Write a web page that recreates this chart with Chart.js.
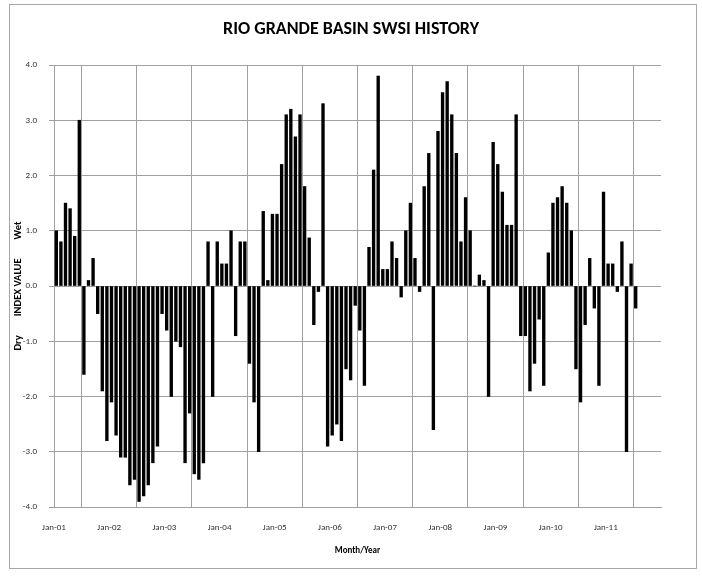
<!DOCTYPE html>
<html><head><meta charset="utf-8">
<script src="https://cdn.jsdelivr.net/npm/chart.js@4/dist/chart.umd.min.js"></script>
<style>html,body{margin:0;padding:0;background:#fff;}</style>
</head><body>
<canvas id="c" width="702" height="576" style="display:block;width:702px;height:576px"></canvas>
<script>
const yearLabels = ['Jan-01','Jan-02','Jan-03','Jan-04','Jan-05','Jan-06','Jan-07','Jan-08','Jan-09','Jan-10','Jan-11'];
const swsi2001 = [1.0, 0.8, 1.5, 1.4, 0.9, 3.0, -1.6, 0.1, 0.5, -0.5, -1.9, -2.8];
const swsi2002 = [-2.1, -2.7, -3.1, -3.1, -3.6, -3.5, -3.9, -3.8, -3.6, -3.2, -2.9, -0.5];
const swsi2003 = [-0.8, -2.0, -1.0, -1.1, -3.2, -2.3, -3.4, -3.5, -3.2, 0.8, -2.0, 0.8];
const swsi2004 = [0.4, 0.4, 1.0, -0.9, 0.8, 0.8, -1.4, -2.1, -3.0, 1.35, 0.1, 1.3];
const swsi2005 = [1.3, 2.2, 3.1, 3.2, 2.7, 3.1, 1.8, 0.87, -0.7, -0.1, 3.3, -2.9];
const swsi2006 = [-2.7, -2.5, -2.8, -1.5, -1.7, -0.35, -0.8, -1.8, 0.7, 2.1, 3.8, 0.3];
const swsi2007 = [0.3, 0.8, 0.5, -0.2, 1.0, 1.5, 0.5, -0.1, 1.8, 2.4, -2.6, 2.8];
const swsi2008 = [3.5, 3.7, 3.1, 2.4, 0.8, 1.6, 1.0, 0, 0.2, 0.1, -2.0, 2.6];
const swsi2009 = [2.2, 1.7, 1.1, 1.1, 3.1, -0.9, -0.9, -1.9, -1.4, -0.6, -1.8, 0.6];
const swsi2010 = [1.5, 1.6, 1.8, 1.5, 1.0, -1.5, -2.1, -0.7, 0.5, -0.4, -1.8, 1.7];
const swsi2011 = [0.4, 0.4, -0.1, 0.8, -3.0, 0.4, -0.4];
const monthlySWSI = [].concat(swsi2001, swsi2002, swsi2003, swsi2004, swsi2005, swsi2006,
  swsi2007, swsi2008, swsi2009, swsi2010, swsi2011);

const FONT = 'Carlito, Calibri, Lato, "Open Sans", sans-serif';
const GRID = '#a0a0a0';

const frame = {
  id: 'frame',
  beforeDraw(chart) {
    const ctx = chart.ctx;
    ctx.save();
    ctx.fillStyle = '#ffffff';
    ctx.fillRect(0, 0, chart.width, chart.height);
    ctx.strokeStyle = '#a6a6a6';
    ctx.lineWidth = 1;
    ctx.strokeRect(9.5, 4.5, 687, 564);
    ctx.restore();
  }
};

new Chart(document.getElementById('c'), {
  type: 'bar',
  data: {
    datasets: [{
      label: 'SWSI',
      data: monthlySWSI.map((v, i) => ({ x: i + 0.5, y: v })),
      backgroundColor: '#000000',
      borderWidth: 0,
      barThickness: 2.7
    }]
  },
  options: {
    responsive: false,
    devicePixelRatio: 1,
    animation: false,
    layout: { padding: { left: 0, right: 0, top: 0, bottom: 0 } },
    plugins: {
      legend: { display: false },
      tooltip: { enabled: false },
      title: {
        display: true,
        text: 'RIO GRANDE BASIN SWSI HISTORY',
        color: '#000000',
        font: { family: FONT, size: 18, weight: 'bold' },
        padding: { top: 19, bottom: 24.4 }
      }
    },
    scales: {
      x: {
        type: 'linear',
        position: 'bottom',
        min: 0,
        max: 132,
        offset: false,
        grid: { color: GRID, lineWidth: 1, drawTicks: false },
        border: { color: GRID },
        ticks: {
          stepSize: 12,
          autoSkip: false,
          maxRotation: 0,
          padding: 15,
          color: '#333333',
          font: { family: FONT, size: 9 },
          callback: (v) => yearLabels[Math.round(v / 12)] || ''
        },
        title: {
          display: true,
          text: 'Month/Year',
          color: '#000000',
          font: { family: FONT, size: 9, weight: 'bold' },
          padding: { top: 0, bottom: 20 }
        },
        afterFit: (s) => { s.height = 69; }
      },
      y: {
        position: 'left',
        min: -4,
        max: 4,
        grid: { color: GRID, lineWidth: 1, tickLength: 5 },
        border: { color: GRID },
        ticks: {
          stepSize: 1,
          padding: 12,
          color: '#333333',
          font: { family: FONT, size: 9 },
          callback: (v) => v.toFixed(1)
        },
        title: {
          display: true,
          text: 'Dry        INDEX VALUE        Wet',
          color: '#000000',
          font: { family: FONT, size: 10.5, weight: 'bold' },
          padding: { top: 12.5, bottom: 0 }
        },
        afterFit: (s) => { s.width = 54; }
      },
      yRightSpace: {
        type: 'linear',
        position: 'right',
        min: -4,
        max: 4,
        display: true,
        grid: { display: false, drawTicks: false },
        border: { display: false },
        ticks: { display: false },
        afterFit: (s) => { s.width = 41; }
      }
    }
  },
  plugins: [frame]
});
</script>
</body></html>
